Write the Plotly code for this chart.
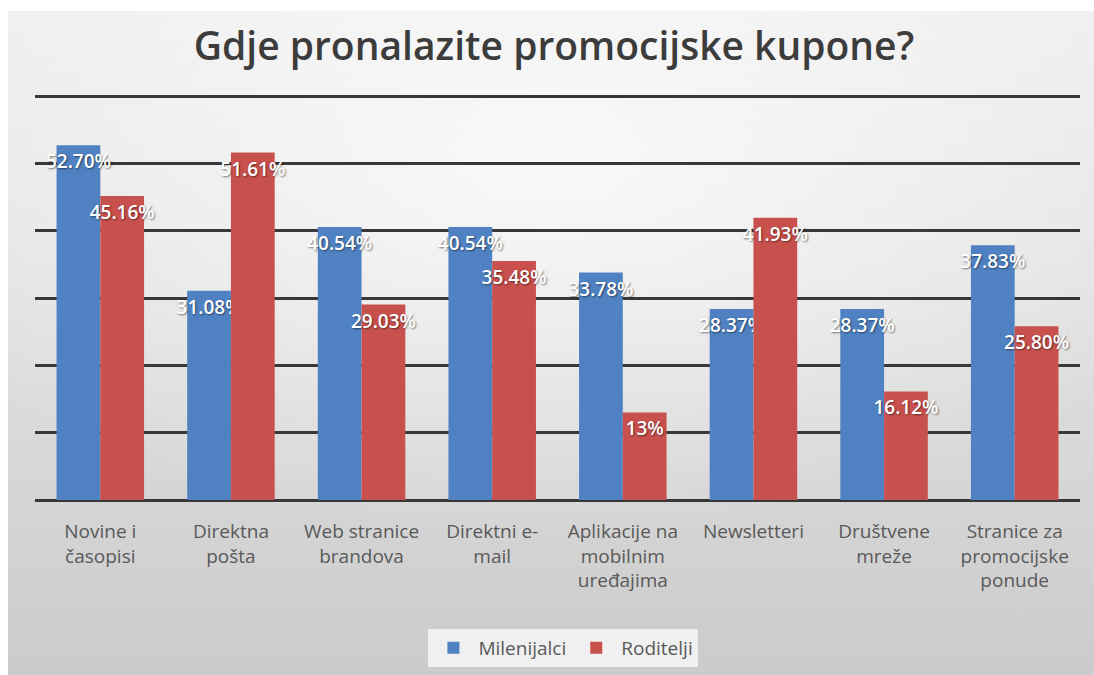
import plotly.graph_objects as go

categories = ["Novine i<br>časopisi", "Direktna<br>pošta", "Web stranice<br>brandova",
              "Direktni e-<br>mail", "Aplikacije na<br>mobilnim<br>uređajima", "Newsletteri",
              "Društvene<br>mreže", "Stranice za<br>promocijske<br>ponude"]
milenijalci = [52.70, 31.08, 40.54, 40.54, 33.78, 28.37, 28.37, 37.83]
roditelji = [45.16, 51.61, 29.03, 35.48, 13, 41.93, 16.12, 25.80]
milenijalci_labels = ["52.70%", "31.08%", "40.54%", "40.54%", "33.78%", "28.37%", "28.37%", "37.83%"]
roditelji_labels = ["45.16%", "51.61%", "29.03%", "35.48%", "13%", "41.93%", "16.12%", "25.80%"]

W, H = 1094, 675
FONT = "Open Sans"

fig = go.Figure()

# decorative background: vertical gradient + soft light spot near the top centre
fig.add_trace(go.Scatter(
    x=[8 / W, 1, 1, 8 / W, 8 / W], y=[0, 0, 1 - 11 / H, 1 - 11 / H, 0],
    xaxis="x", yaxis="y", mode="lines", line=dict(width=0),
    fill="toself", fillgradient=dict(type="vertical", colorscale=[[0, "#cbcbcb"], [0.6, "#e2e2e2"], [1, "#eeeeee"]]),
    hoverinfo="skip", showlegend=False))
fig.add_trace(go.Scatter(
    x=[-0.15, 1.15, 1.15, -0.15, -0.15], y=[0.2, 0.2, 1.3, 1.3, 0.2],
    xaxis="x", yaxis="y", mode="lines", line=dict(width=0),
    fill="toself", fillgradient=dict(type="radial", colorscale=[[0, "rgba(255,255,255,0.75)"], [1, "rgba(255,255,255,0)"]]),
    hoverinfo="skip", showlegend=False))

label_font = dict(family=FONT, size=19, color="white", weight=600,
                  shadow="1px 1px 2px rgba(0,0,0,0.5)")

fig.add_trace(go.Bar(
    name="Milenijalci", x=categories, y=milenijalci, text=milenijalci_labels,
    xaxis="x2", yaxis="y2", marker=dict(color="#5082c3", line=dict(width=0)),
    textposition="inside", insidetextanchor="end", constraintext="none", textangle=0,
    textfont=label_font, cliponaxis=False))
fig.add_trace(go.Bar(
    name="Roditelji", x=categories, y=roditelji, text=roditelji_labels,
    xaxis="x2", yaxis="y2", marker=dict(color="#c8514e", line=dict(width=0)),
    textposition="inside", insidetextanchor="end", constraintext="none", textangle=0,
    textfont=label_font, cliponaxis=False))

fig.update_layout(
    width=W, height=H,
    margin=dict(l=0, r=0, t=0, b=0),
    paper_bgcolor="white", plot_bgcolor="rgba(0,0,0,0)",
    barmode="group", bargap=0.33, bargroupgap=0,
    title=dict(text="Gdje pronalazite promocijske kupone?", x=554 / W, xanchor="center",
               y=1 - 46 / H, yanchor="middle",
               font=dict(family=FONT, size=39, color="#3c3c3c", weight=600)),
    xaxis=dict(domain=[0, 1], range=[0, 1], visible=False, fixedrange=True),
    yaxis=dict(domain=[0, 1], range=[0, 1], visible=False, fixedrange=True),
    xaxis2=dict(domain=[35 / W, 1080 / W], anchor="y2", showgrid=False, showline=False,
                ticks="", tickfont=dict(family=FONT, size=19, color="#595959"), ticklabelstandoff=18),
    yaxis2=dict(domain=[(H - 500) / H, (H - 94) / H], anchor="x2", range=[0, 60.3], dtick=10,
                showgrid=True, gridcolor="#383838", gridwidth=2.5, zeroline=True,
                zerolinecolor="#383838", zerolinewidth=2.5, showticklabels=False, showline=False),
    legend=dict(orientation="h", x=0.515, xanchor="center", y=1 - 648 / H, yanchor="middle",
                bgcolor="#f0f0f0", font=dict(family=FONT, size=19, color="#595959"),
                itemwidth=40, traceorder="normal"),
    showlegend=True,
)

fig.write_html("out.html", config={"displayModeBar": False},
               post_script="document.body.style.margin='0';document.body.style.overflow='hidden';")
